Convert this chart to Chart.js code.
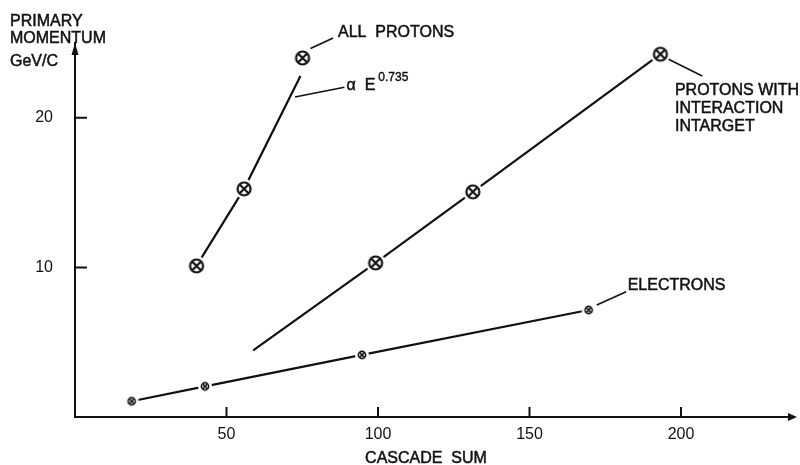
<!DOCTYPE html>
<html>
<head>
<meta charset="utf-8">
<script src="https://cdn.jsdelivr.net/npm/chart.js@4.4.1/dist/chart.umd.min.js"></script>
<style>
  html, body { margin: 0; padding: 0; background: #fff; }
  #wrap { width: 800px; height: 465px; }
</style>
</head>
<body>
<div id="wrap"><canvas id="chart" width="800" height="465"></canvas></div>
<script>
// cascade sum vs primary momentum, three series

const xTicks = [50, 100, 150, 200];
const yTicks = [10, 20];

const allProtonsX = [40.1, 55.8, 75.1];
const allProtonsY = [10.1, 15.25, 24.0];
// fitted curve (alpha E^0.735) stops short of the top point
const allProtonsFitX = [40.1, 55.8, 74.4];
const allProtonsFitY = [10.1, 15.25, 22.8];

const interactionX = [99.2, 131.3, 193.2];
const interactionY = [10.3, 15.05, 24.25];
const interactionFitX = [58.8, 99.2, 131.3, 193.2];
const interactionFitY = [4.45, 10.3, 15.05, 24.25];

const electronsX = [18.7, 42.9, 94.7, 169.5];
const electronsY = [1.05, 2.05, 4.15, 7.15];

const INK = "#111";
const FONT = "Liberation Sans, Arial, sans-serif";

const pts = (xs, ys) => xs.map((x, i) => ({ x, y: ys[i] }));

// circle with a cross, white halo so lines stop short of it
function marker(r, halo, lw) {
  const size = Math.ceil(halo * 2 + 2);
  const c = document.createElement("canvas");
  c.width = c.height = size;
  const g = c.getContext("2d");
  const m = size / 2;
  g.fillStyle = "#fff";
  g.beginPath(); g.arc(m, m, halo, 0, Math.PI * 2); g.fill();
  g.strokeStyle = INK;
  g.lineWidth = lw;
  g.beginPath(); g.arc(m, m, r, 0, Math.PI * 2); g.stroke();
  const d = r * 0.62;
  g.beginPath();
  g.moveTo(m - d, m - d); g.lineTo(m + d, m + d);
  g.moveTo(m + d, m - d); g.lineTo(m - d, m + d);
  g.stroke();
  return c;
}

const bigMark = marker(6.5, 10, 2.2);
const smallMark = marker(3.6, 7, 1.6);

function lineSet(data) {
  return { data, showLine: true, borderColor: INK, borderWidth: 2.2, pointRadius: 0, order: 2 };
}
function markSet(data, img) {
  return { data, showLine: false, pointStyle: img, pointRadius: 8, order: 1 };
}

// text a bit heavier, like the plotter lettering
function inkText(ctx, s, x, y) {
  ctx.fillText(s, x, y);
  ctx.strokeText(s, x, y);
}

// inward ticks, arrows, axis titles, annotations
const decor = {
  id: "decor",
  afterDraw(chart) {
    const ctx = chart.ctx;
    const xs = chart.scales.x, ys = chart.scales.y;
    const a = chart.chartArea;
    const px = (v) => xs.getPixelForValue(v);
    const py = (v) => ys.getPixelForValue(v);
    ctx.save();
    ctx.strokeStyle = INK;
    ctx.fillStyle = INK;
    ctx.lineWidth = 2;

    ctx.beginPath();
    xTicks.forEach((v) => { ctx.moveTo(px(v), a.bottom); ctx.lineTo(px(v), a.bottom - 10); });
    yTicks.forEach((v) => { ctx.moveTo(a.left, py(v)); ctx.lineTo(a.left + 12, py(v)); });
    // x axis runs a little past the plot area
    const tipX = a.right + 6;
    ctx.moveTo(a.right - 1, a.bottom);
    ctx.lineTo(tipX - 4, a.bottom);
    ctx.stroke();

    // arrow heads
    ctx.beginPath();
    ctx.moveTo(a.left, a.top);
    ctx.lineTo(a.left - 3.5, a.top + 12);
    ctx.lineTo(a.left + 3.5, a.top + 12);
    ctx.closePath();
    ctx.fill();
    ctx.beginPath();
    ctx.moveTo(tipX, a.bottom);
    ctx.lineTo(tipX - 9, a.bottom - 4);
    ctx.lineTo(tipX - 9, a.bottom + 4);
    ctx.closePath();
    ctx.fill();

    // leader lines
    ctx.lineWidth = 1.6;
    const leaders = [
      [77.7, 24.63, 85.2, 25.34],
      [72.6, 21.39, 88.9, 22.04],
      [195.9, 23.91, 207.0, 22.8],
      [172.2, 7.48, 181.9, 8.37],
    ];
    ctx.beginPath();
    leaders.forEach(([x1, y1, x2, y2]) => { ctx.moveTo(px(x1), py(y1)); ctx.lineTo(px(x2), py(y2)); });
    ctx.stroke();

    ctx.lineWidth = 0.5;
    ctx.font = "16px " + FONT;
    ctx.textBaseline = "alphabetic";
    ctx.textAlign = "left";
    inkText(ctx, "PRIMARY", a.left - 65, 26);
    inkText(ctx, "MOMENTUM", a.left - 65, 43);
    inkText(ctx, "GeV/C", a.left - 65, 66);
    ctx.textAlign = "center";
    inkText(ctx, "CASCADE  SUM", a.left + 351, 463);

    ctx.textAlign = "left";
    inkText(ctx, "ALL  PROTONS", px(86.8), py(25.43));
    inkText(ctx, "ELECTRONS", px(182.4), py(8.48));
    const lx = px(198.0), ly = py(21.55);
    inkText(ctx, "PROTONS WITH", lx, ly);
    inkText(ctx, "INTERACTION", lx, ly + 18.4);
    inkText(ctx, "INTARGET", lx, ly + 36.8);

    const ax = px(89.6), ay = py(21.86);
    const alpha = "\u03b1  E";
    inkText(ctx, alpha, ax, ay);
    const w = ctx.measureText(alpha).width;
    ctx.font = "12px " + FONT;
    ctx.lineWidth = 0.4;
    inkText(ctx, "0.735", ax + w + 3, ay - 8.5);
    ctx.restore();
  },
};

new Chart(document.getElementById("chart"), {
  type: "scatter",
  data: {
    datasets: [
      lineSet(pts(allProtonsFitX, allProtonsFitY)),
      lineSet(pts(interactionFitX, interactionFitY)),
      lineSet(pts(electronsX, electronsY)),
      markSet(pts(allProtonsX, allProtonsY), bigMark),
      markSet(pts(interactionX, interactionY), bigMark),
      markSet(pts(electronsX, electronsY), smallMark),
    ],
  },
  options: {
    responsive: false,
    animation: false,
    layout: { padding: { top: 43, right: 3, left: 0, bottom: 0 } },
    plugins: { legend: { display: false }, tooltip: { enabled: false } },
    scales: {
      x: {
        type: "linear",
        min: 0,
        max: 236.3,
        afterBuildTicks: (s) => { s.ticks = xTicks.map((v) => ({ value: v })); },
        afterFit: (s) => { s.height = 48; s.paddingLeft = 0; s.paddingRight = 0; },
        grid: { display: false },
        border: { display: true, color: INK, width: 2 },
        ticks: { color: INK, padding: 0, font: { family: FONT, size: 16 }, maxRotation: 0 },
      },
      y: {
        type: "linear",
        min: 0,
        max: 25,
        afterBuildTicks: (s) => { s.ticks = yTicks.map((v) => ({ value: v })); },
        afterFit: (s) => { s.width = 75; s.paddingTop = 0; s.paddingBottom = 0; },
        grid: { display: false },
        border: { display: true, color: INK, width: 2 },
        ticks: { color: INK, padding: 14, font: { family: FONT, size: 16 } },
      },
    },
  },
  plugins: [decor],
});
</script>
</body>
</html>
